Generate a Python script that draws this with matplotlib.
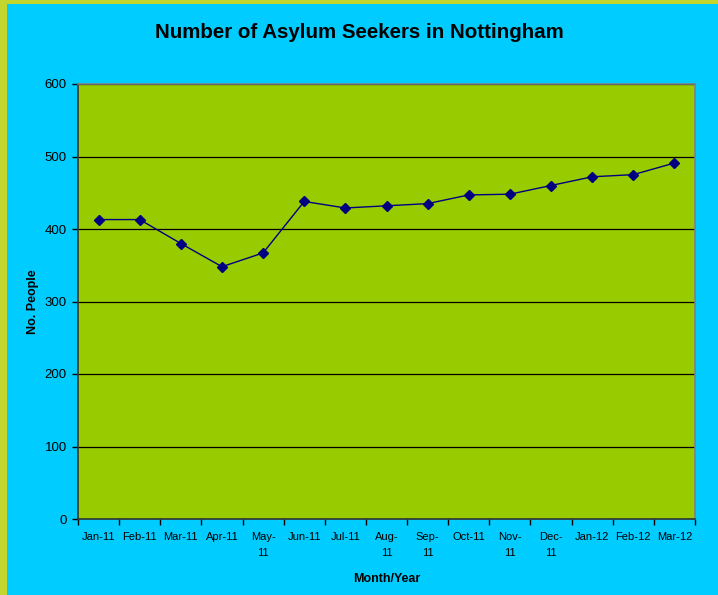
import numpy as np
import matplotlib.pyplot as plt
from matplotlib.patches import Rectangle

plt.rcParams['font.family'] = ['Liberation Sans', 'DejaVu Sans']

# data
months = ["Jan-11", "Feb-11", "Mar-11", "Apr-11", "May-\n11", "Jun-11", "Jul-11",
          "Aug-\n11", "Sep-\n11", "Oct-11", "Nov-\n11", "Dec-\n11", "Jan-12",
          "Feb-12", "Mar-12"]
people = [413, 413, 380, 348, 367, 438, 429, 432, 435, 447, 448, 460, 472, 475, 491]

fig = plt.figure(figsize=(7.18, 5.95), dpi=100)
fig.patch.set_facecolor('#C2D62E')
fig.patches.append(Rectangle((7/718, 0), 1, 1 - 4/595, transform=fig.transFigure,
                             facecolor='#00CCFF', edgecolor='none', zorder=-5))

ax = fig.add_axes([78/718, 1 - 519/595, (695-78)/718, (519-84)/595])
ax.set_facecolor('#99CC00')

x = np.arange(len(months))
ax.plot(x, people, color='#000080', lw=1.0, marker='D', ms=5, zorder=3)

ax.set_xlim(-0.5, len(months) - 0.5)
ax.set_ylim(0, 600)
ax.set_yticks(np.arange(0, 601, 100))
ax.yaxis.grid(True, color='black', lw=0.9)
ax.set_axisbelow(True)

# ticks between categories, labels at centres
ax.set_xticks(np.arange(-0.5, len(months), 1.0))
ax.set_xticklabels([])
ax.set_xticks(x, minor=True)
ax.set_xticklabels(months, minor=True, fontsize=8, linespacing=1.75)
ax.tick_params(axis='x', which='minor', length=0, pad=9)
ax.tick_params(axis='x', which='major', length=4, width=1, direction='out')
ax.tick_params(axis='y', length=4, width=1, direction='out', labelsize=9.5, pad=4)
for lab in ax.get_xticklabels(minor=True):
    lab.set_verticalalignment('top')

for s in ['left', 'bottom']:
    ax.spines[s].set_color('#333333')
    ax.spines[s].set_linewidth(1.2)
for s in ['top', 'right']:
    ax.spines[s].set_color('#808080')
    ax.spines[s].set_linewidth(1.2)

ax.set_xlabel("Month/Year", fontsize=9, fontweight='bold', labelpad=11)
ax.set_ylabel("No. People", fontsize=9, fontweight='bold', labelpad=4)
fig.text(0.5, 1 - 33/595, "Number of Asylum Seekers in Nottingham",
         ha='center', va='center', fontsize=14.8, fontweight='bold')

fig.savefig('out.png', dpi=100, facecolor=fig.get_facecolor())
